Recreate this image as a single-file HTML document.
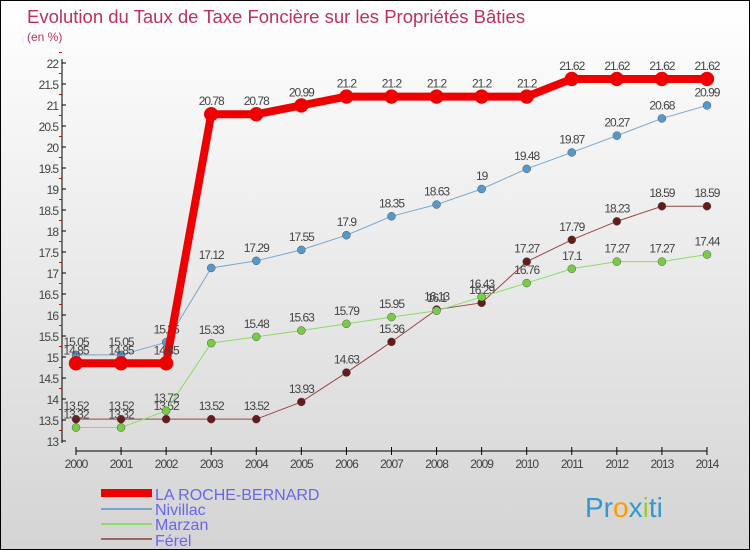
<!DOCTYPE html>
<html><head><meta charset="utf-8"><style>
body{margin:0}
#c{position:relative;width:748px;height:548px;border:1px solid #000;background:linear-gradient(#fff,#d4d4d4);font-family:"Liberation Sans",sans-serif;overflow:hidden}
</style></head><body>
<div id="c">
<svg id="s" width="748" height="548" xmlns="http://www.w3.org/2000/svg">
<text x="26" y="22" font-size="18.5" fill="#c0305a">Evolution du Taux de Taxe Foncière sur les Propriétés Bâties</text>
<text x="26" y="40" font-size="12" fill="#c0305a">(en %)</text>
<g id="ax"></g><g id="ser"></g>
<g>
<rect x="100" y="488" width="51" height="8" fill="#e00"/>
<text x="154" y="499" font-size="16" fill="#6666ee">LA ROCHE-BERNARD</text>
<rect x="100" y="507" width="51" height="2" fill="#7aa6cc"/>
<text x="154" y="514" font-size="16" fill="#6666ee">Nivillac</text>
<rect x="100" y="522" width="51" height="2" fill="#88dd66"/>
<text x="154" y="529" font-size="16" fill="#6666ee">Marzan</text>
<rect x="100" y="537" width="51" height="2" fill="#996666"/>
<text x="154" y="545" font-size="16" fill="#6666ee">Férel</text>
</g>
<text x="584" y="516" font-size="28"><tspan fill="#3399cc">Pr</tspan><tspan fill="#ff9900">o</tspan><tspan fill="#3399cc">x</tspan><tspan fill="#99cc33">i</tspan><tspan fill="#3399cc">ti</tspan></text>
</svg>
</div>
<script>
const years=[2000,2001,2002,2003,2004,2005,2006,2007,2008,2009,2010,2011,2012,2013,2014];
const yTicks=[13,13.5,14,14.5,15,15.5,16,16.5,17,17.5,18,18.5,19,19.5,20,20.5,21,21.5,22];
const lrb=[14.85,14.85,14.85,20.78,20.78,20.99,21.2,21.2,21.2,21.2,21.2,21.62,21.62,21.62,21.62];
const nivillac=[15.05,15.05,15.35,17.12,17.29,17.55,17.9,18.35,18.63,19,19.48,19.87,20.27,20.68,20.99];
const marzan=[13.32,13.32,13.72,15.33,15.48,15.63,15.79,15.95,16.1,16.43,16.76,17.1,17.27,17.27,17.44];
const ferel=[13.52,13.52,13.52,13.52,13.52,13.93,14.63,15.36,16.13,16.29,17.27,17.79,18.23,18.59,18.59];
const NS="http://www.w3.org/2000/svg";
const X=i=>75+i*45.07, Y=v=>440-(v-13)*42;
function mk(t,a,p){const e=document.createElementNS(NS,t);for(const k in a)e.setAttribute(k,a[k]);p.appendChild(e);return e;}
const ax=document.getElementById('ax');
let l=mk('line',{x1:61,y1:58,x2:61,y2:442,stroke:'#000'},ax);


l=mk('line',{x1:75,y1:450,x2:706,y2:450,stroke:'#000'},ax);


yTicks.forEach(v=>{
 mk('line',{x1:61,y1:Y(v),x2:65,y2:Y(v),stroke:'#000'},ax);
 mk('line',{x1:58,y1:Y(v+0.25),x2:61,y2:Y(v+0.25),stroke:'#e00'},ax);
 const t=mk('text',{x:57,y:Y(v)+5,'font-size':12,fill:'#444','text-anchor':'end','letter-spacing':'-1'},ax);
 t.textContent=v;
 
 
});
years.forEach((yr,i)=>{
 mk('line',{x1:X(i),y1:446,x2:X(i),y2:454,stroke:'#000'},ax);
 const t=mk('text',{x:X(i),y:467,'font-size':12,fill:'#444','text-anchor':'middle','letter-spacing':'-1'},ax);
 t.textContent=yr;
 
 
});
const ser=document.getElementById('ser');
function draw(d,name,col,dot,w,r){
 const g=mk('g',{},ser);
 
 
 const p=mk('polyline',{points:d.map((v,i)=>X(i)+','+Y(v)).join(' '),fill:'none',stroke:col,'stroke-width':w},g);
 
 
 d.forEach((v,i)=>{
  const c=mk('circle',{cx:X(i),cy:Y(v),r:r,fill:dot,stroke:w>3?dot:'#555','stroke-width':0.5},g);
  
  
  const t=mk('text',{x:X(i),y:Y(v)-9,'font-size':12,fill:'#444','text-anchor':'middle','letter-spacing':'-1'},g);
  t.textContent=v;
  
  
 });
}
draw(ferel,'ferel','#994444','#661a1a',1,4);
draw(marzan,'marzan','#88dd66','#77cc44',1,4);
draw(nivillac,'nivillac','#7aa6cc','#5599cc',1,4);
draw(lrb,'la-roche-bernard','#e00','#e00',8,7);
</script>
</body></html>
